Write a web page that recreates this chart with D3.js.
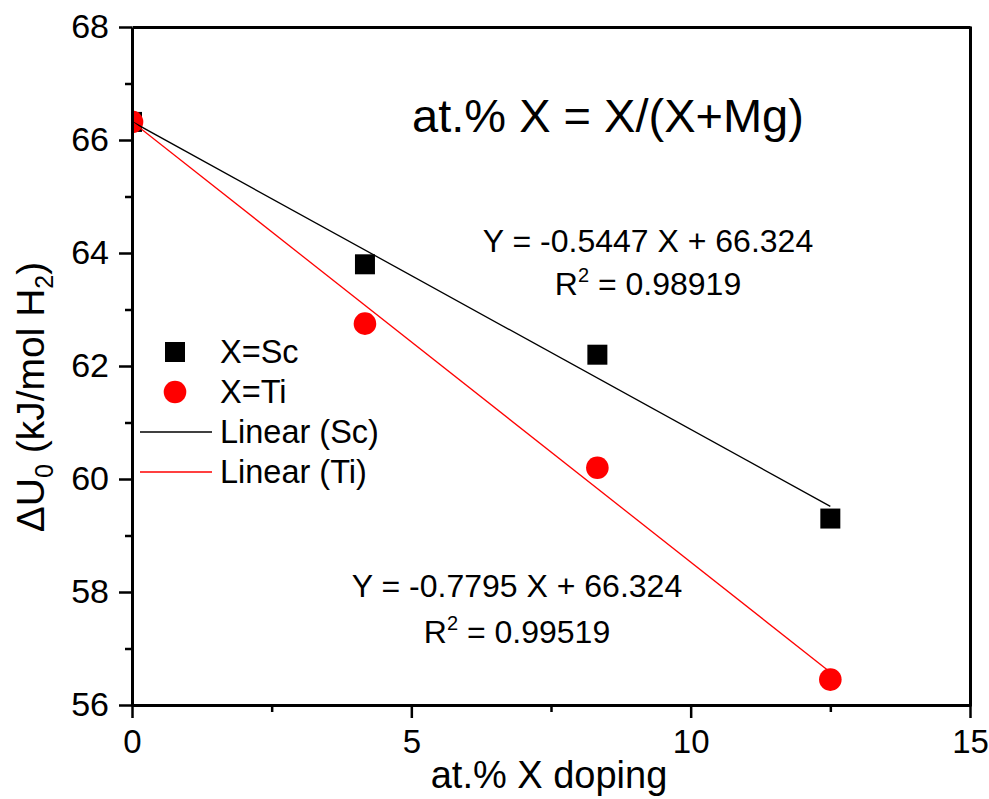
<!DOCTYPE html>
<html>
<head>
<meta charset="utf-8">
<script src="https://cdn.jsdelivr.net/npm/d3@7"></script>
<style>
  html, body { margin: 0; padding: 0; background: #fff; }
  svg { display: block; font-family: "Liberation Sans", Arial, sans-serif; }
</style>
</head>
<body>
<script>
// Doping level (at.%) and desorption energy values for each dopant
const doping = [0, 4.17, 8.33, 12.5];
const scValues = [66.32, 63.8, 62.2, 59.3];
const tiValues = [66.32, 62.75, 60.2, 56.45];

// Linear fit parameters (slope, intercept, R²)
const fitSc = { slope: -0.5447, intercept: 66.324, r2: "0.98919" };
const fitTi = { slope: -0.7795, intercept: 66.324, r2: "0.99519" };
const fitRange = [0, 12.5];

const xTicks = [0, 5, 10, 15];
const xMinorTicks = [2.5, 7.5, 12.5];
const yTicks = [56, 58, 60, 62, 64, 66, 68];
const yMinorTicks = [57, 59, 61, 63, 65, 67];

const W = 989, H = 799;
const m = { left: 132, right: 19, top: 27, bottom: 94 };
const iw = W - m.left - m.right, ih = H - m.top - m.bottom;

const svg = d3.select("body").append("svg").attr("width", W).attr("height", H);

const x = d3.scaleLinear().domain([0, 15]).range([m.left, m.left + iw]);
const y = d3.scaleLinear().domain([56, 68]).range([m.top + ih, m.top]);

svg.append("defs").append("clipPath").attr("id", "plotClip")
  .append("rect").attr("x", m.left).attr("y", m.top).attr("width", iw).attr("height", ih);

const plot = svg.append("g").attr("clip-path", "url(#plotClip)");

// Markers
const sq = d3.symbol().type(d3.symbolSquare).size(400);
plot.selectAll("path.sc").data(doping).join("path")
  .attr("class", "sc")
  .attr("d", sq)
  .attr("transform", (d, i) => `translate(${x(d)},${y(scValues[i])})`)
  .attr("fill", "#000");

plot.selectAll("circle.ti").data(doping).join("circle")
  .attr("class", "ti")
  .attr("cx", d => x(d))
  .attr("cy", (d, i) => y(tiValues[i]))
  .attr("r", 11.3)
  .attr("fill", "#ff0000");

// Fit lines
const line = d3.line().x(d => x(d[0])).y(d => y(d[1]));
function fitPoints(f) { return fitRange.map(v => [v, f.intercept + f.slope * v]); }
plot.append("path").attr("d", line(fitPoints(fitSc)))
  .attr("fill", "none").attr("stroke", "#000").attr("stroke-width", 1.3);
plot.append("path").attr("d", line(fitPoints(fitTi)))
  .attr("fill", "none").attr("stroke", "#ff0000").attr("stroke-width", 1.3);

// Axes
const axisStroke = 3;
function styleAxis(g) {
  g.selectAll("path.domain").attr("stroke", "#000").attr("stroke-width", axisStroke);
  g.selectAll(".tick line").attr("stroke", "#000").attr("stroke-width", 2.5);
}

const gx = svg.append("g").attr("transform", `translate(0,${m.top + ih})`)
  .call(d3.axisBottom(x).tickValues(xTicks).tickSize(13).tickSizeOuter(0).tickPadding(12).tickFormat(d3.format("d")));
styleAxis(gx);
gx.selectAll("text").attr("font-size", 33).attr("fill", "#000").attr("font-family", "Liberation Sans, Arial, sans-serif");

svg.append("g").attr("transform", `translate(0,${m.top + ih})`)
  .call(d3.axisBottom(x).tickValues(xMinorTicks).tickSize(7).tickSizeOuter(0).tickFormat(""))
  .call(g => { g.select("path.domain").remove(); g.selectAll(".tick line").attr("stroke", "#000").attr("stroke-width", 2.5); });

const gy = svg.append("g").attr("transform", `translate(${m.left},0)`)
  .call(d3.axisLeft(y).tickValues(yTicks).tickSize(13).tickSizeOuter(0).tickPadding(10).tickFormat(d3.format("d")));
styleAxis(gy);
gy.selectAll("text").attr("font-size", 34).attr("fill", "#000").attr("font-family", "Liberation Sans, Arial, sans-serif");

svg.append("g").attr("transform", `translate(${m.left},0)`)
  .call(d3.axisLeft(y).tickValues(yMinorTicks).tickSize(7).tickSizeOuter(0).tickFormat(""))
  .call(g => { g.select("path.domain").remove(); g.selectAll(".tick line").attr("stroke", "#000").attr("stroke-width", 2.5); });

// Top and right frame
svg.append("g").attr("transform", `translate(0,${m.top})`)
  .call(d3.axisTop(x).tickValues([]).tickSizeOuter(0))
  .call(g => g.select("path.domain").attr("stroke", "#000").attr("stroke-width", axisStroke));
svg.append("g").attr("transform", `translate(${m.left + iw},0)`)
  .call(d3.axisLeft(y).tickValues(yTicks.concat(yMinorTicks)).tickSize(-2).tickSizeOuter(0).tickFormat(""))
  .call(g => { g.select("path.domain").attr("stroke", "#000").attr("stroke-width", axisStroke);
               g.selectAll(".tick line").attr("stroke", "#000").attr("stroke-width", 2); });

// Axis titles
svg.append("text")
  .attr("x", 549).attr("y", 788)
  .attr("text-anchor", "middle").attr("font-size", 38).attr("fill", "#000")
  .text("at.% X doping");

const yt = svg.append("text")
  .attr("transform", `translate(44,397) rotate(-90)`)
  .attr("text-anchor", "middle").attr("font-size", 39).attr("fill", "#000");
yt.append("tspan").text("ΔU");
yt.append("tspan").attr("font-size", 25).attr("dy", 9).text("0");
yt.append("tspan").attr("dy", -9).text(" (kJ/mol H");
yt.append("tspan").attr("font-size", 25).attr("dy", 9).text("2");
yt.append("tspan").attr("dy", -9).text(")");

// Annotations
svg.append("text").attr("x", 608).attr("y", 132)
  .attr("text-anchor", "middle").attr("font-size", 47).attr("fill", "#000")
  .text("at.% X = X/(X+Mg)");

function fitLabel(cx, y1, y2, f) {
  svg.append("text").attr("x", cx).attr("y", y1)
    .attr("text-anchor", "middle").attr("font-size", 32).attr("fill", "#000")
    .text(`Y = ${f.slope.toFixed(4)} X + ${f.intercept.toFixed(3)}`);
  const t = svg.append("text").attr("x", cx).attr("y", y2)
    .attr("text-anchor", "middle").attr("font-size", 32).attr("fill", "#000");
  t.append("tspan").text("R");
  t.append("tspan").attr("font-size", 20).attr("dy", -13).text("2");
  t.append("tspan").attr("dy", 13).text(" = " + f.r2);
}
fitLabel(648, 252, 295, fitSc);
fitLabel(517, 597, 643, fitTi);

// Legend
const legend = svg.append("g");
const legendItems = [
  { label: "X=Sc", kind: "square", color: "#000" },
  { label: "X=Ti", kind: "circle", color: "#ff0000" },
  { label: "Linear (Sc)", kind: "line", color: "#000" },
  { label: "Linear (Ti)", kind: "line", color: "#ff0000" }
];
legendItems.forEach((it, i) => {
  const cy = 352 + i * 40;
  if (it.kind === "square") {
    legend.append("path").attr("d", sq).attr("transform", `translate(175,${cy})`).attr("fill", it.color);
  } else if (it.kind === "circle") {
    legend.append("circle").attr("cx", 175).attr("cy", cy).attr("r", 11.3).attr("fill", it.color);
  } else {
    legend.append("line").attr("x1", 140).attr("x2", 212).attr("y1", cy).attr("y2", cy)
      .attr("stroke", it.color).attr("stroke-width", 1.3);
  }
  legend.append("text").attr("x", 220).attr("y", cy + 11)
    .attr("font-size", 32.5).attr("fill", "#000").text(it.label);
});
</script>
</body>
</html>
